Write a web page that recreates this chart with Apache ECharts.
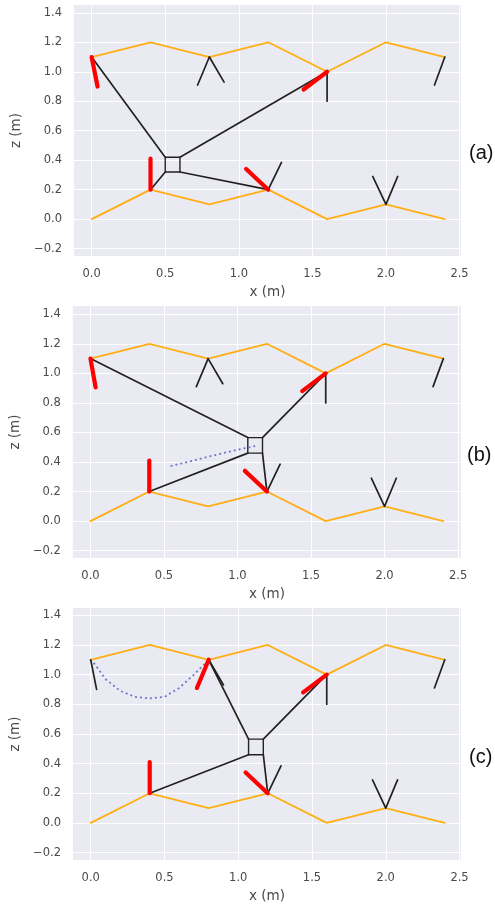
<!DOCTYPE html>
<html><head><meta charset="utf-8">
<style>html,body{margin:0;padding:0;background:#fff}#c{width:495px;height:905px;filter:blur(0.4px)}</style>
<script src="https://cdn.jsdelivr.net/npm/echarts@6/dist/echarts.min.js"></script>
</head><body><div id="c"></div>
<script>
const xTicks = [0, 0.5, 1, 1.5, 2, 2.5];
const zTicks = [-0.2, 0, 0.2, 0.4, 0.6, 0.8, 1, 1.2, 1.4];
const panelLabels = ['(a)', '(b)', '(c)'];

const topProfile = [[0,1.1],[0.4,1.2],[0.8,1.1],[1.2,1.2],[1.6,1.0],[2.0,1.2],[2.4,1.1]];
const bottomProfile = [[0,0],[0.4,0.2],[0.8,0.1],[1.2,0.2],[1.6,0],[2.0,0.1],[2.4,0]];

const sharedStubs = [
  [[0.72,0.91],[0.8,1.1]],
  [[1.6,1.0],[1.6,0.8]],
  [[2.4,1.1],[2.33,0.91]],
  [[1.2,0.2],[1.29,0.385]],
  [[1.91,0.29],[2.0,0.1],[2.08,0.29]]
];
const stubsA = [[[0.8,1.1],[0.9,0.93]]];
const stubsB = [[[0.8,1.1],[0.9,0.93]]];
const stubsC = [[[0.8,1.1],[0.9,0.93]], [[0,1.1],[0.04,0.9]]];

const redA = [[[0,1.1],[0.04,0.9]], [[0.4,0.2],[0.4,0.41]], [[1.2,0.2],[1.05,0.34]], [[1.6,1.0],[1.44,0.88]]];
const redB = [[[0,1.1],[0.035,0.905]], [[0.4,0.2],[0.4,0.41]], [[1.2,0.2],[1.05,0.34]], [[1.6,1.0],[1.44,0.88]]];
const redC = [[[0.8,1.1],[0.72,0.91]], [[0.4,0.2],[0.4,0.41]], [[1.2,0.2],[1.05,0.34]], [[1.6,1.0],[1.44,0.88]]];

const squareA = [[0.5,0.42],[0.6,0.42],[0.6,0.32],[0.5,0.32],[0.5,0.42]];
const squareB = [[1.07,0.565],[1.17,0.565],[1.17,0.46],[1.07,0.46],[1.07,0.565]];
const squareC = [[1.07,0.565],[1.17,0.565],[1.17,0.46],[1.07,0.46],[1.07,0.565]];

const cablesA = [[[0,1.1],[0.5,0.42]], [[1.6,1.0],[0.6,0.42]], [[0.4,0.2],[0.5,0.32]], [[1.2,0.2],[0.6,0.32]]];
const cablesB = [[[0,1.1],[1.07,0.565]], [[1.6,1.0],[1.17,0.565]], [[0.4,0.2],[1.07,0.46]], [[1.2,0.2],[1.17,0.46]]];
const cablesC = [[[0.8,1.1],[1.07,0.565]], [[1.6,1.0],[1.17,0.565]], [[0.4,0.2],[1.07,0.46]], [[1.2,0.2],[1.17,0.46]]];

const dottedA = [];
const dottedB = [[0.545,0.372],[0.7,0.41],[0.84,0.445],[1.0,0.483],[1.12,0.508]];
const dottedC = [[0.02,1.08],[0.1,0.97],[0.2,0.89],[0.3,0.85],[0.4,0.84],[0.5,0.85],[0.6,0.91],[0.7,1.0],[0.78,1.08]];

const panels = [
  {l:74, t:5, w:387, h:251, xMin:-0.12, xMax:2.51, yMin:-0.25, yMax:1.453,
   stubs:stubsA, red:redA, square:squareA, cables:cablesA, dotted:dottedA, labelY:153, labelX:469},
  {l:70, t:306, w:391, h:252, xMin:-0.12, xMax:2.52, yMin:-0.25, yMax:1.456,
   stubs:stubsB, red:redB, square:squareB, cables:cablesB, dotted:dottedB, labelY:455, labelX:467},
  {l:73, t:608, w:388, h:252, xMin:-0.12, xMax:2.51, yMin:-0.25, yMax:1.449,
   stubs:stubsC, red:redC, square:squareC, cables:cablesC, dotted:dottedC, labelY:757, labelX:469}
];

const TEXT = '#4a4a4a';
const FONT = '"DejaVu Sans"';
const grids = [], xAxes = [], yAxes = [], series = [], graphics = [];

function add(i, data, color, width, z, extra) {
  series.push({type:'line', xAxisIndex:i, yAxisIndex:i, data, symbol:'none', z, silent:true, smooth:false,
    lineStyle:Object.assign({color, width, cap:'round', join:'round'}, extra||{})});
}

panels.forEach((p, i) => {
  grids.push({left:p.l, top:p.t, width:p.w, height:p.h, backgroundColor:'#EAEAF2', show:true, borderWidth:0});
  const fmt = v => (+v).toFixed(1).replace('-', '\u2212');
  const common = {
    type:'value', gridIndex:i, axisLine:{show:false},
    nameLocation:'middle',
    nameTextStyle:{color:TEXT, fontFamily:FONT, fontSize:13.5}
  };
  xAxes.push(Object.assign({}, common, {min:p.xMin, max:p.xMax, name:'x (m)', nameGap:29,
    axisTick:{show:false, customValues:xTicks},
    axisLabel:{color:TEXT, fontFamily:FONT, fontSize:11.5, margin:12, formatter:fmt, customValues:xTicks},
    splitLine:{show:true, lineStyle:{color:'#fff', width:1}, customValues:xTicks}}));
  yAxes.push(Object.assign({}, common, {min:p.yMin, max:p.yMax, name:'z (m)', nameGap:i === 1 ? 41 : 42,
    axisTick:{show:false, customValues:zTicks},
    axisLabel:{color:TEXT, fontFamily:FONT, fontSize:11.5, margin:12, formatter:fmt, customValues:zTicks},
    splitLine:{show:true, lineStyle:{color:'#fff', width:1}, customValues:zTicks}}));

  add(i, topProfile, '#FFAE14', 1.8, 3);
  add(i, bottomProfile, '#FFAE14', 1.8, 3);
  sharedStubs.concat(p.stubs).forEach(s => add(i, s, '#222', 1.7, 4));
  p.cables.forEach(s => add(i, s, '#222', 1.7, 4));
  add(i, p.square, '#222', 1.4, 4);
  if (p.dotted.length) add(i, p.dotted, '#6F78C6', 1.8, 4, {type:[2,3], cap:'butt'});
  p.red.forEach(s => add(i, s, '#FF0000', 4.2, 5));

  graphics.push({type:'text', left:p.labelX, top:p.labelY - 10,
    style:{text:panelLabels[i], fill:'#111', font:'20px "Liberation Sans"'}});
});

const chart = echarts.init(document.getElementById('c'), null, {renderer:'canvas'});
chart.setOption({animation:false, grid:grids, xAxis:xAxes, yAxis:yAxes, series, graphic:graphics});
</script></body></html>
